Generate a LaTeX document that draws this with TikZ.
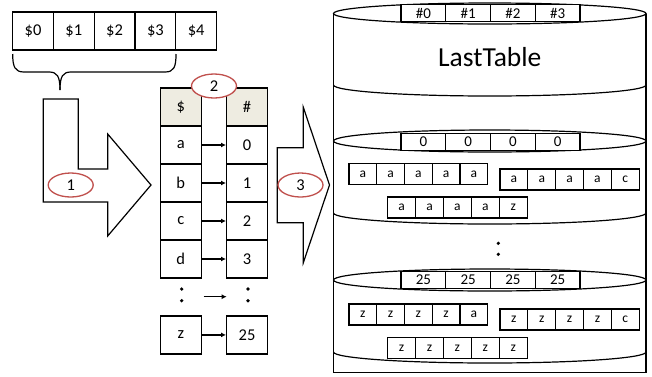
\documentclass[tikz,border=0pt]{standalone}
\usepackage{fontspec}
\setmainfont{Carlito}
\usetikzlibrary{shapes.geometric,arrows.meta}
\definecolor{lred}{HTML}{C0504D}
\definecolor{beige}{HTML}{EEECE1}
\newcommand{\lowarc}[1]{\draw (333.5,#1) .. controls (333.5,#1+6.08) and (403.45,#1+11) .. (489.75,#1+11) .. controls (576.05,#1+11) and (646,#1+6.08) .. (646,#1);}
\begin{document}
\begin{tikzpicture}[x=1pt,y=-1pt,
 line width=1.2pt,
 cell/.style={draw, minimum width=40.8pt, minimum height=38pt, inner sep=0pt, font=\fontsize{16.5}{18}\selectfont},
 hcell/.style={draw, fill=white, minimum width=44.75pt, minimum height=17.5pt, inner sep=0pt, font=\fontsize{15}{16}\selectfont},
 scell/.style={draw, fill=white, minimum width=27.8pt, minimum height=21pt, inner sep=0pt, font=\fontsize{13.5}{14}\selectfont},
 lab/.style={ellipse, draw=lred, fill=white, line width=1.3pt, minimum width=45pt, minimum height=24pt, inner sep=0pt, font=\fontsize{16.5}{18}\selectfont},
 bigarrow/.style={draw, fill=white, line width=1.2pt, line join=miter},
 link/.style={-{Latex[length=5pt,width=5pt]}, line width=1.2pt},
 dot/.style={circle, fill, inner sep=0pt, minimum size=3.6pt}
]
\useasboundingbox (0,0) rectangle (652,376);

% top row of cells
\node[cell] (t0) at (33,31) {\$0};
\node[cell] (t1) at (73.8,31) {\$1};
\node[cell] (t2) at (114.6,31) {\$2};
\node[cell] (t3) at (155.4,31) {\$3};
\node[cell] (t4) at (196.2,31) {\$4};

% brace
\coordinate (btip) at (60,90);
\draw (12.7,54) .. controls (12.7,67) and (15,72) .. (24,72) -- (49,72) .. controls (57,72) and (60,76) .. (btip);
\draw (btip) .. controls (60,76) and (63,72) .. (71,72) -- (165,72) .. controls (174,72) and (176,67) .. (176,54);

% big arrow 1
\draw[bigarrow] (43.3,99) -- (78.3,99) -- (78.3,169) -- (107.7,169) -- (107.7,134) -- (151,185) -- (107.7,236) -- (107.7,202) -- (43.3,202) -- cycle;
\node[lab] (n1) at (70.7,185) {1};

% table
\node[cell, fill=beige] (L0) at (180.8,107) {\$};
\node[cell] (La) at (180.8,145) {a};
\node[cell] (Lb) at (180.8,183) {b};
\node[cell] (Lc) at (180.8,221) {c};
\node[cell] (Ld) at (180.8,259) {d};
\node[cell] (Lz) at (180.8,334.9) {z};
\node[cell, fill=beige] (R0) at (247,107) {\#};
\node[cell] (Ra) at (247,145) {0};
\node[cell] (Rb) at (247,183) {1};
\node[cell] (Rc) at (247,221) {2};
\node[cell] (Rd) at (247,259) {3};
\node[cell] (Rz) at (247,334.9) {25};
\draw[link] (La.east) -- (Ra.west);
\draw[link] (Lb.east) -- (Rb.west);
\draw[link] (Lc.east) -- (Rc.west);
\draw[link] (Ld.east) -- (Rd.west);
\draw[link] (Lz.east) -- (Rz.west);
\node[dot] (ld1) at (181.7,289) {};
\node[dot] (ld2) at (181.7,300.7) {};
\node[dot] (rd1) at (248,289) {};
\node[dot] (rd2) at (248,300.7) {};
\coordinate (ma) at (203.5,296.7);
\coordinate (mb) at (226.7,296.7);
\draw[link] (ma) -- (mb);
\node[lab] (n2) at (214,86) {2};

% big arrow 3
\draw[bigarrow] (277.3,147.7) -- (303.3,147.7) -- (303.3,107.3) -- (329.5,185) -- (303.3,262.7) -- (303.3,222.7) -- (277.3,222.7) -- cycle;
\node[lab] (n3) at (300.5,185) {3};

% cylinder
\draw (333.5,13.5) -- (333.5,372.7) -- (646,372.7) -- (646,13.5);
\draw (489.75,13.5) ellipse [x radius=156.25, y radius=10.5];
\lowarc{85}
\draw (489.75,141) ellipse [x radius=156.25, y radius=11];
\lowarc{213}
\draw (489.75,280) ellipse [x radius=156.25, y radius=11];
\lowarc{352}
\node[font=\fontsize{27.5}{30}\selectfont] (title) at (489.75,57) {LastTable};

\foreach \t [count=\i from 0] in {\#0,\#1,\#2,\#3}
  \node[hcell] (h\i) at ({423.4+\i*44.75},13) {\t};
\foreach \t [count=\i from 0] in {0,0,0,0}
  \node[hcell] (z\i) at ({423.4+\i*44.75},142) {\t};
\foreach \t [count=\i from 0] in {25,25,25,25}
  \node[hcell] (q\i) at ({423.4+\i*44.75},280) {\t};

% section 1 words
\foreach \l [count=\i from 0] in {a,a,a,a,a}
  \node[scell] (sa\i) at ({362.9+\i*27.75},173.8) {\l};
\foreach \l [count=\i from 0] in {a,a,a,a,c}
  \node[scell] (sb\i) at ({513.9+\i*27.85},179.5) {\l};
\foreach \l [count=\i from 0] in {a,a,a,a,z}
  \node[scell] (sc\i) at ({401.6+\i*27.9},207.5) {\l};

% middle dots
\node[dot] (cd1) at (498.3,243.3) {};
\node[dot] (cd2) at (498.3,254.3) {};

% section 3 words
\foreach \l [count=\i from 0] in {z,z,z,z,a}
  \node[scell] (ua\i) at ({362.9+\i*27.75},314.5) {\l};
\foreach \l [count=\i from 0] in {z,z,z,z,c}
  \node[scell] (ub\i) at ({513.9+\i*27.85},319.5) {\l};
\foreach \l [count=\i from 0] in {z,z,z,z,z}
  \node[scell] (uc\i) at ({401.6+\i*27.9},347.8) {\l};
\end{tikzpicture}
\end{document}
